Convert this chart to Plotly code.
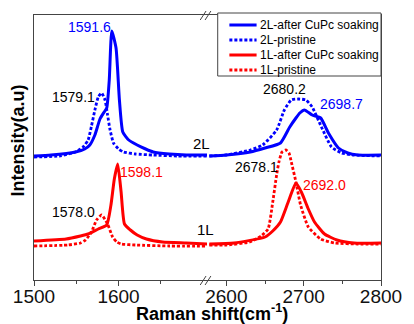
import plotly.graph_objects as go

# ---------------- data (Raman shift, intensity a.u.) ----------------
# G-band region (left panel)
g_2L_after_x = [1500, 1520, 1549, 1560, 1566, 1572, 1578, 1583, 1586, 1589, 1592, 1597, 1601, 1605, 1612, 1622, 1632, 1641, 1660, 1680, 1705]
g_2L_after_y = [124, 125, 128, 131, 135, 145, 161, 168, 172, 200, 249, 232, 180, 148, 140, 135, 131, 128, 126, 125, 125]

g_2L_pristine_x = [1500, 1530, 1549, 1558, 1564, 1568, 1572, 1576, 1580, 1584, 1587, 1590, 1594, 1600, 1606, 1620, 1640, 1670, 1705]
g_2L_pristine_y = [123, 124, 128, 133, 140, 154, 170, 183, 187, 180, 165, 150, 137, 131, 128, 126, 125, 124, 124]

g_1L_after_x = [1500, 1538, 1555, 1564, 1576, 1586, 1591, 1595, 1599, 1603, 1607, 1614, 1622, 1633, 1652, 1680, 1705]
g_1L_after_y = [39, 41, 44, 46, 51, 55, 75, 101, 116, 88, 56, 50, 45, 41, 38, 37, 36]

g_1L_pristine_x = [1500, 1540, 1555, 1561, 1568, 1574, 1580, 1587, 1593, 1598, 1603, 1620, 1660, 1705]
g_1L_pristine_y = [34, 35, 37, 40, 48, 60, 65, 56, 43, 38, 36, 35, 34, 34]

# 2D-band region (right panel)
d_2L_after_x = [2578, 2600, 2631, 2650, 2670, 2682, 2690, 2695, 2701, 2711, 2722, 2732, 2745, 2757, 2770, 2800]
d_2L_after_y = [124, 125, 128, 132, 137, 153, 162, 167, 170, 165, 162, 147, 132, 127, 125, 125]

d_2L_pristine_x = [2578, 2600, 2631, 2647, 2665, 2675, 2684, 2693, 2703, 2711, 2723, 2736, 2749, 2765, 2800]
d_2L_pristine_y = [124, 125, 130, 135, 150, 170, 180, 181, 180, 173, 153, 133, 127, 125, 124]

d_1L_after_x = [2578, 2610, 2650, 2660, 2670, 2680, 2690, 2697, 2706, 2714, 2727, 2743, 2765, 2800]
d_1L_after_y = [36, 37, 43, 49, 58, 78, 97, 88, 71, 58, 46, 40, 37, 37]

d_1L_pristine_x = [2578, 2600, 2630, 2645, 2654, 2660, 2665, 2668, 2672, 2677, 2681, 2684, 2690, 2696, 2706, 2722, 2740, 2770, 2800]
d_1L_pristine_y = [35, 35, 38, 44, 51, 78, 105, 118, 128, 130, 127, 118, 98, 75, 53, 41, 37, 36, 36]

series_names = ["2L-after CuPc soaking", "2L-pristine", "1L-after CuPc soaking", "1L-pristine"]
series_colors = ["#0000FF", "#0000FF", "#FF0000", "#FF0000"]
series_dash = ["solid", "3px,2px", "solid", "3px,2px"]

left_ticks = [1500, 1600]
left_minor = [1550, 1650]
right_ticks = [2600, 2700, 2800]
right_minor = [2650, 2750]

peak_labels = [  # text, x, y, axis, color
    ("1591.6", 1565.5, 253, "x", "#0000FF"),
    ("1579.1", 1547, 183, "x", "#000000"),
    ("1598.1", 1627.6, 108, "x", "#FF0000"),
    ("1578.0", 1547, 68, "x", "#000000"),
    ("2680.2", 2675.6, 191, "x2", "#000000"),
    ("2698.7", 2748.6, 176, "x2", "#0000FF"),
    ("2678.1", 2639, 113, "x2", "#000000"),
    ("2692.0", 2727, 95, "x2", "#FF0000"),
]

FONT = "Arial, Liberation Sans, sans-serif"

# ---------------- figure ----------------
fig = go.Figure()
left_sets = [(g_2L_after_x, g_2L_after_y), (g_2L_pristine_x, g_2L_pristine_y),
             (g_1L_after_x, g_1L_after_y), (g_1L_pristine_x, g_1L_pristine_y)]
right_sets = [(d_2L_after_x, d_2L_after_y), (d_2L_pristine_x, d_2L_pristine_y),
              (d_1L_after_x, d_1L_after_y), (d_1L_pristine_x, d_1L_pristine_y)]

for i in range(4):
    lx, ly = left_sets[i]
    rx, ry = right_sets[i]
    line = dict(color=series_colors[i], width=3 if series_dash[i] == "solid" else 2.8,
                dash=series_dash[i], shape="spline", smoothing=0.5)
    fig.add_trace(go.Scatter(x=lx, y=ly, mode="lines", line=line, name=series_names[i],
                             xaxis="x", yaxis="y", showlegend=False))
    fig.add_trace(go.Scatter(x=rx, y=ry, mode="lines", line=line, name=series_names[i],
                             xaxis="x2", yaxis="y2", showlegend=False))

W, H = 414, 324
ML, MR, MT, MB = 34, 23, 15, 44
PW, PH = W - ML - MR, H - MT - MB
split = (212 - ML) / PW

def px(xp):
    return (xp - ML) / PW

def py(yp):
    return (H - MB - yp) / PH

axis_common = dict(showline=True, linecolor="#444", linewidth=1, mirror=True,
                   showgrid=False, zeroline=False, ticks="outside", ticklen=5,
                   tickcolor="#444", ticklabelstandoff=-6,
                   tickfont=dict(family=FONT, size=19, color="#111"))

fig.update_layout(
    width=W, height=H,
    margin=dict(l=ML, r=MR, t=MT, b=MB),
    paper_bgcolor="white", plot_bgcolor="white",
    showlegend=False,
    xaxis=dict(domain=[0, split], range=[1500, 1704.6], tickvals=left_ticks,
               minor=dict(tickvals=left_minor, ticks="outside", ticklen=3, tickcolor="#444"),
               anchor="y", **axis_common),
    xaxis2=dict(domain=[split, 1], range=[2575, 2800], tickvals=right_ticks,
                minor=dict(tickvals=right_minor, ticks="outside", ticklen=3, tickcolor="#444"),
                anchor="y2", **axis_common),
    yaxis=dict(range=[0, 265], showline=True, linecolor="#444", linewidth=1,
               showticklabels=False, ticks="", showgrid=False, zeroline=False, anchor="x"),
    yaxis2=dict(range=[0, 265], matches="y", showline=True, linecolor="#444", linewidth=1,
                showticklabels=False, ticks="", showgrid=False, zeroline=False,
                anchor="x2", side="right"),
)

annotations = []
for text, x, y, ax, col in peak_labels:
    annotations.append(dict(text=text, x=x, y=y, xref=ax, yref="y", showarrow=False,
                            font=dict(family=FONT, size=14, color=col),
                            xanchor="center", yanchor="middle"))
annotations.append(dict(text="2L", x=px(206), y=137, xref="paper", yref="y", showarrow=False,
                        font=dict(family=FONT, size=15, color="#000")))
annotations.append(dict(text="1L", x=px(210), y=51, xref="paper", yref="y", showarrow=False,
                        font=dict(family=FONT, size=15, color="#000")))
annotations.append(dict(text="<b>Intensity(a.u)</b>", x=px(18), y=py(140), xref="paper", yref="paper",
                        textangle=-90, showarrow=False, xanchor="center", yanchor="middle",
                        font=dict(family=FONT, size=18, color="#000")))
annotations.append(dict(text="<b>Raman shift(cm<sup>-1</sup>)</b>", x=px(217), y=py(312),
                        xref="paper", yref="paper", showarrow=False, xanchor="center", yanchor="middle",
                        font=dict(family=FONT, size=18, color="#000")))

shapes = []
# axis-break marks
for (ytop, ybot) in [(276, 285), (11, 20)]:
    for dx in (0, 5):
        shapes.append(dict(type="line", xref="paper", yref="paper",
                           x0=px(205 + dx), y0=py(ybot), x1=px(211 + dx), y1=py(ytop),
                           line=dict(color="#444", width=1)))
# legend box
shapes.append(dict(type="rect", xref="paper", yref="paper", x0=px(223), x1=px(391),
                   y0=py(76), y1=py(13), fillcolor="white", line=dict(color="#444", width=1),
                   layer="above"))
leg_y = [25, 40, 55, 70]
for i in range(4):
    shapes.append(dict(type="line", xref="paper", yref="paper", x0=px(235), x1=px(263),
                       y0=py(leg_y[i]), y1=py(leg_y[i]),
                       line=dict(color=series_colors[i], width=3 if series_dash[i] == "solid" else 2.8,
                                 dash=series_dash[i])))
    annotations.append(dict(text=series_names[i], x=px(264), y=py(leg_y[i]), xref="paper", yref="paper",
                            showarrow=False, xanchor="left", yanchor="middle",
                            font=dict(family=FONT, size=12, color="#000")))

fig.update_layout(annotations=annotations, shapes=shapes)
fig.write_html("out.html")
